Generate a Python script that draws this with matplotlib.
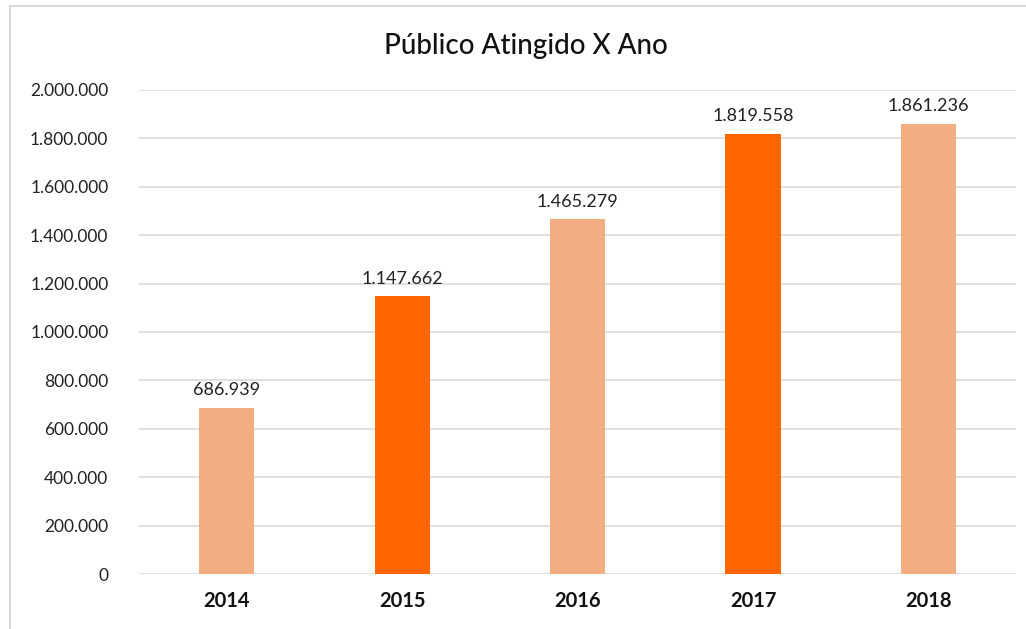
import matplotlib
matplotlib.use("Agg")
import matplotlib.pyplot as plt
from matplotlib.patches import Rectangle

plt.rcParams['font.family'] = ['Lato', 'DejaVu Sans']

anos = ["2014", "2015", "2016", "2017", "2018"]
publico = [686939, 1147662, 1465279, 1819558, 1861236]
cores = ["#F2AE80", "#FF6600", "#F2AE80", "#FF6600", "#F2AE80"]
yticks = [0, 200000, 400000, 600000, 800000, 1000000, 1200000,
          1400000, 1600000, 1800000, 2000000]


def fmt(v):
    # milhar com ponto, estilo pt-BR
    return f"{v:,}".replace(",", ".")


fig = plt.figure(figsize=(10.26, 6.29), dpi=100)
ax = fig.add_axes([0.1355, 0.0874, 0.855, 0.7696])

# moldura cinza do gráfico
fig.patches.append(Rectangle((10 / 1026, -0.02), 1.05, 1 - 6 / 629 + 0.02,
                             transform=fig.transFigure, fill=False,
                             edgecolor="#D9D9D9", linewidth=1.5))

x = range(len(anos))
bars = ax.bar(x, publico, width=0.315, color=cores, zorder=3)

for b, v in zip(bars, publico):
    ax.text(b.get_x() + b.get_width() / 2, v + 40000, fmt(v),
            ha="center", va="bottom", fontsize=13, color="#222222")

ax.set_xlim(-0.5, 4.5)
ax.set_ylim(0, 2000000)
ax.set_yticks(yticks)
ax.set_yticklabels([fmt(t) for t in yticks], fontsize=12.5, color="#222222")
ax.set_xticks(list(x))
ax.set_xticklabels(anos, fontsize=14.5, fontweight="bold", color="#111111")

ax.grid(axis="y", color="#D9D9D9", linewidth=1.2, zorder=0)
for s in ax.spines.values():
    s.set_visible(False)
ax.tick_params(axis="both", length=0)
ax.tick_params(axis="y", pad=22)
ax.tick_params(axis="x", pad=12)

fig.text(0.513, 0.927, "Público Atingido X Ano", ha="center", va="center",
         fontsize=20, fontweight="medium", color="#111111")

fig.savefig("out.png", dpi=100)
